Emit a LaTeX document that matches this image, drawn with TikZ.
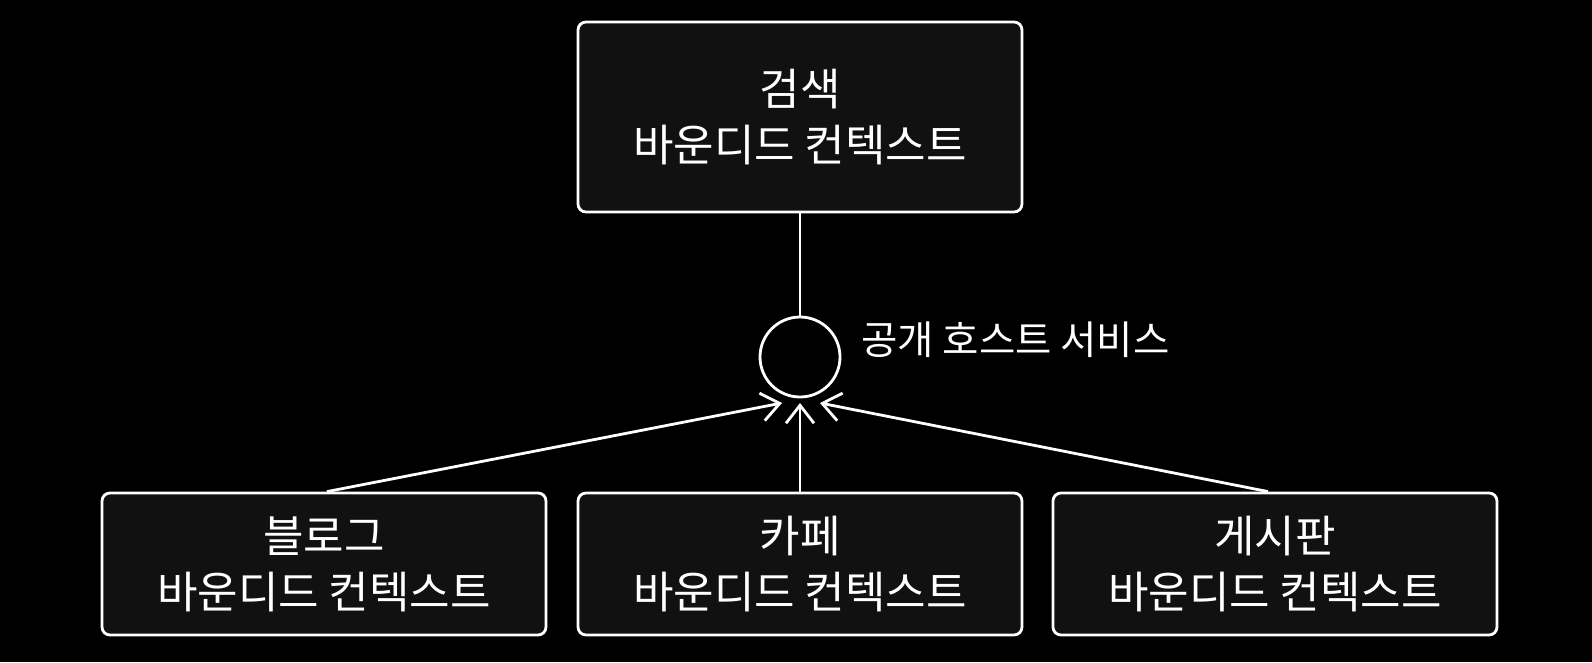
\documentclass[tikz,border=0pt]{standalone}
\usepackage{fontspec}
\newfontfamily\kr{Noto Sans CJK KR}
\usetikzlibrary{arrows.meta}
\definecolor{boxgray}{HTML}{111111}
\begin{document}
\begin{tikzpicture}[x=1pt,y=-1pt,
  box/.style={draw=white, line width=2.8pt, fill=boxgray, rounded corners=8pt,
    minimum width=444pt, inner sep=0pt, align=center, text=white,
    font=\kr\fontsize{44}{56}\selectfont},
  conn/.style={draw=white, line width=2.8pt},
  arr/.style={conn, -{Straight Barb[length=18pt,width=28pt,line width=2.8pt]}},
  lbl/.style={text=white, font=\kr\fontsize{39.5}{44}\selectfont, inner sep=0pt, anchor=west}
]
\fill[black] (0,0) rectangle (1592,662);
\useasboundingbox (0,0) rectangle (1592,662);

\node[box, minimum height=190pt] (search) at (800,117) {검색\\바운디드 컨텍스트};
\node[box, minimum height=142pt] (blog) at (324,564) {블로그\\바운디드 컨텍스트};
\node[box, minimum height=142pt] (cafe) at (800,564) {카페\\바운디드 컨텍스트};
\node[box, minimum height=142pt] (board) at (1275,564) {게시판\\바운디드 컨텍스트};

\node[draw=white, line width=2.8pt, circle, minimum size=80pt, inner sep=0pt] (ohs) at (800,357) {};
\node[lbl] (ohslbl) at (861,340) {공개 호스트 서비스};

\coordinate (tipl) at (782,403);
\coordinate (tipm) at (800,403);
\coordinate (tipr) at (820,403);

\draw[conn] (search.south) -- (ohs.north);
\draw[arr] ([xshift=3pt]blog.north) -- (tipl);
\draw[arr] (cafe.north) -- (tipm);
\draw[arr] ([xshift=-7pt]board.north) -- (tipr);
\end{tikzpicture}
\end{document}
